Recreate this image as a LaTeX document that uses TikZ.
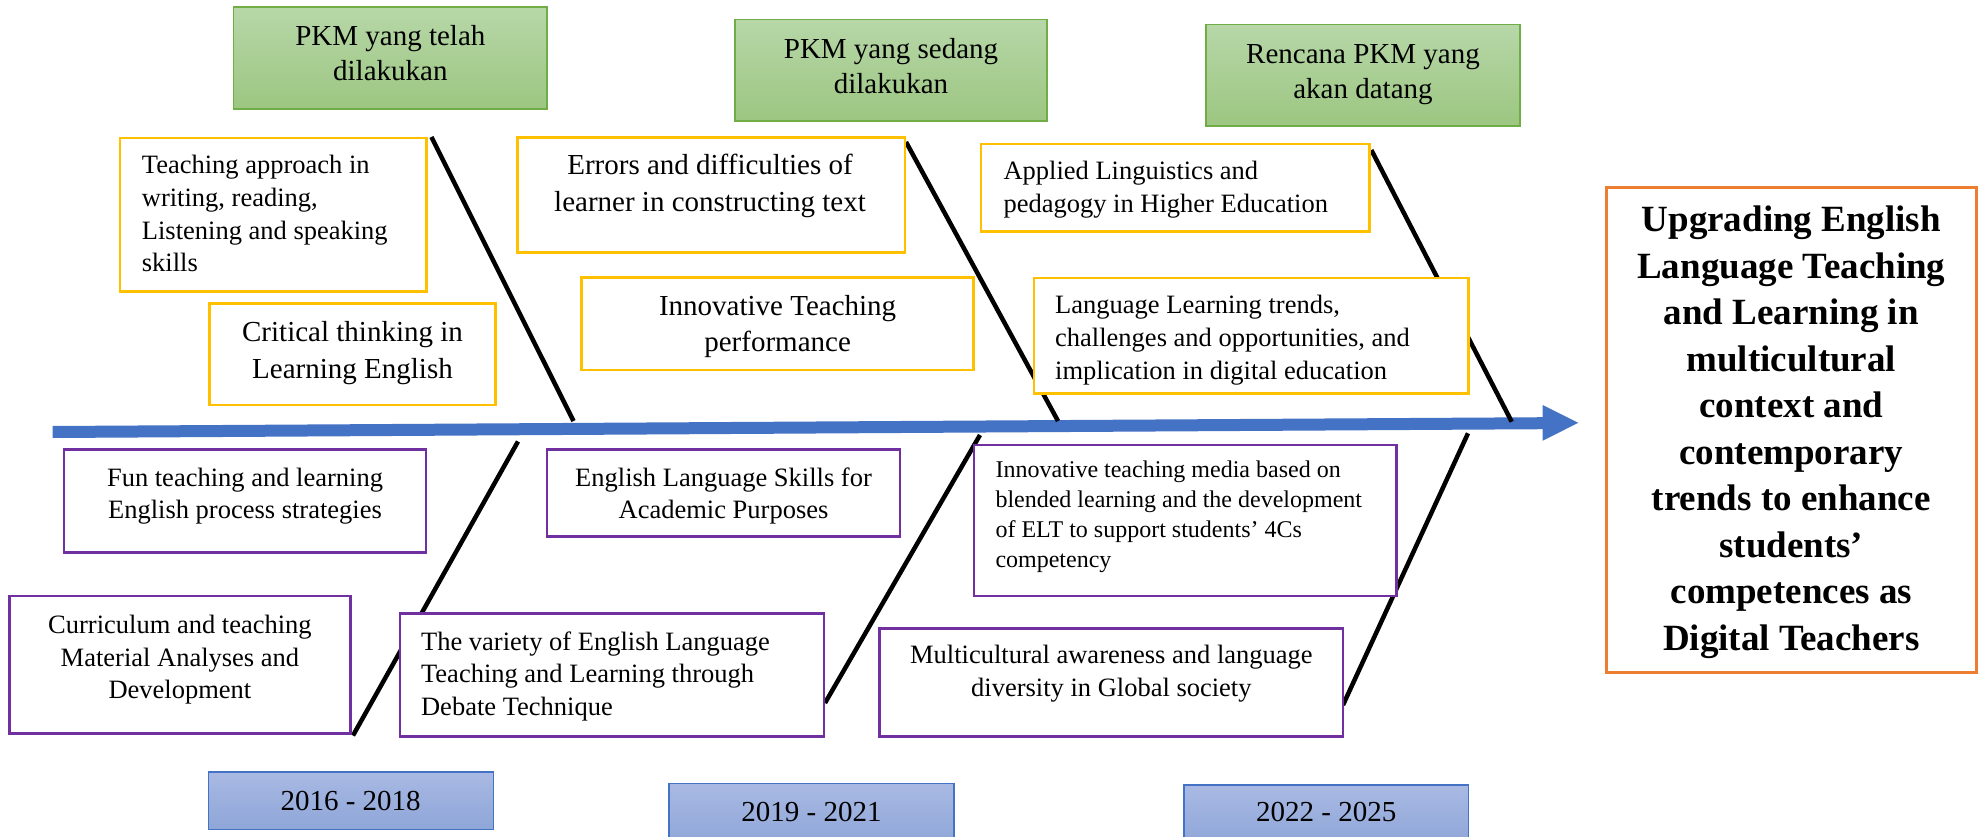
\documentclass[tikz,border=0pt]{standalone}
\usepackage{fontspec}
\setmainfont{Liberation Serif}
\definecolor{gold}{HTML}{FFC000}
\definecolor{purp}{HTML}{7030A0}
\definecolor{grnb}{HTML}{70AD47}
\definecolor{grnt}{HTML}{B7D7A8}
\definecolor{grnbt}{HTML}{9CC681}
\definecolor{orng}{HTML}{ED7D31}
\definecolor{blu}{HTML}{4472C4}
\definecolor{yrt}{HTML}{A9B9E3}
\definecolor{yrb}{HTML}{8EA6D8}
\newcommand{\setfs}[2]{\fontsize{#1pt}{#2pt}\selectfont}
\newcommand{\ctext}[1]{\begin{tabular}[t]{@{}c@{}}#1\end{tabular}}
\newcommand{\ltext}[1]{\begin{tabular}[t]{@{}l@{}}#1\end{tabular}}
\tikzset{
  boxb/.style={draw, fill=white, inner sep=0pt, line width=2.7pt},
  ybox/.style={boxb, draw=gold},
  pbox/.style={boxb, draw=purp, line width=2.5pt},
  obox/.style={boxb, draw=orng, line width=3pt},
  gbox/.style={draw=grnb, line width=1.6pt, top color=grnt, bottom color=grnbt, inner sep=0pt},
  yrbox/.style={draw=blu, line width=1.6pt, top color=yrt, bottom color=yrb, inner sep=0pt},
  bone/.style={line width=4.5pt, black},
  txt/.style={inner sep=0pt, anchor=base},
  ltxt/.style={inner sep=0pt, anchor=base west},
  fbig/.style={font=\setfs{29}{35.3}},
  fbigb/.style={font=\setfs{29}{36.6}},
  fmed/.style={font=\setfs{26.5}{32.7}},
  fsml/.style={font=\setfs{24}{30}},
  fttl/.style={font=\bfseries\setfs{37}{46.5}}
}
\begin{document}
\begin{tikzpicture}[x=1pt,y=-1pt]
\useasboundingbox (0,0) rectangle (1978,837);
% spine
\coordinate (sA) at (52.6,432);
\coordinate (sB) at (1545,423.2);
\coordinate (hT) at (1542.7,405);
\coordinate (tip) at (1578.3,422.8);
\coordinate (hB) at (1542.7,440.7);
\draw[line width=12pt, blu] (sA) -- (sB);
\fill[blu] (hT) -- (tip) -- (hB) -- cycle;
% bones
\coordinate (u1a) at (431.4,137);   \coordinate (u1b) at (573.5,421);
\coordinate (u2a) at (906,142);     \coordinate (u2b) at (1058,421);
\coordinate (u3a) at (1371.3,150);  \coordinate (u3b) at (1511.7,421.7);
\coordinate (l1a) at (518,441.5);   \coordinate (l1b) at (353,735.5);
\coordinate (l2a) at (980,435);     \coordinate (l2b) at (825,703);
\coordinate (l3a) at (1468,433.3);  \coordinate (l3b) at (1343,705);
\draw[bone] (u1a) -- (u1b);
\draw[bone] (u2a) -- (u2b);
\draw[bone] (u3a) -- (u3b);
\draw[bone] (l1a) -- (l1b);
\draw[bone] (l2a) -- (l2b);
\draw[bone] (l3a) -- (l3b);
% green headers
\node[gbox, minimum width=313.5pt, minimum height=102pt] (g1) at (390.35,58.3) {};
\node[txt, fbig] (g1t) at (390.35,45.7) {\ctext{PKM yang telah\\dilakukan}};
\node[gbox, minimum width=312.3pt, minimum height=101.7pt] (g2) at (891,70.2) {};
\node[txt, fbig] (g2t) at (891,58.3) {\ctext{PKM yang sedang\\dilakukan}};
\node[gbox, minimum width=314pt, minimum height=101.7pt] (g3) at (1363,75.2) {};
\node[txt, fbig] (g3t) at (1363,63.3) {\ctext{Rencana PKM yang\\akan datang}};
% yellow boxes
\node[ybox, minimum width=306.7pt, minimum height=153.3pt] (yA) at (273.35,214.65) {};
\node[ltxt, fmed] (yAt) at (141.7,173.7) {\ltext{Teaching approach in\\writing, reading,\\Listening and speaking\\skills}};
\node[ybox, minimum width=286.6pt, minimum height=101.7pt] (yB) at (352.5,354.2) {};
\node[txt, fbigb] (yBt) at (352.5,341.7) {\ctext{Critical thinking in\\Learning English}};
\node[ybox, minimum width=387.3pt, minimum height=115pt] (yC) at (711.3,194.8) {};
\node[txt, fbigb] (yCt) at (710,175) {\ctext{Errors and difficulties of\\learner in constructing text}};
\node[ybox, minimum width=392pt, minimum height=92.3pt] (yD) at (777.6,323.85) {};
\node[txt, fbigb] (yDt) at (777.6,315) {\ctext{Innovative Teaching\\performance}};
\node[ybox, minimum width=388.3pt, minimum height=87.3pt] (yE) at (1175.15,187.65) {};
\node[ltxt, fmed] (yEt) at (1003.3,179.7) {\ltext{Applied Linguistics and\\pedagogy in Higher Education}};
\node[ybox, minimum width=434.3pt, minimum height=115.7pt] (yF) at (1251.15,335.85) {};
\node[ltxt, fmed] (yFt) at (1055,313.7) {\ltext{Language Learning trends,\\challenges and opportunities, and\\implication in digital education}};
% purple boxes
\node[pbox, minimum width=362pt, minimum height=103pt] (pA) at (245,500.8) {};
\node[txt, fmed] (pAt) at (245,486) {\ctext{Fun teaching and learning\\English process strategies}};
\node[pbox, minimum width=341.3pt, minimum height=137.3pt] (pB) at (179.95,664.65) {};
\node[txt, fmed] (pBt) at (179.95,633.3) {\ctext{Curriculum and teaching\\Material Analyses and\\Development}};
\node[pbox, minimum width=352.8pt, minimum height=87.4pt] (pC) at (723.5,493) {};
\node[txt, fmed] (pCt) at (723.5,486) {\ctext{English Language Skills for\\Academic Purposes}};
\node[pbox, minimum width=424.3pt, minimum height=123.4pt] (pD) at (611.95,675) {};
\node[ltxt, fmed] (pDt) at (420.9,650) {\ltext{The variety of English Language\\Teaching and Learning through\\Debate Technique}};
\node[pbox, minimum width=422.3pt, minimum height=151pt] (pE) at (1185.15,520.5) {};
\node[ltxt, fsml] (pEt) at (995.3,477.3) {\ltext{Innovative teaching media based on\\blended learning and the development\\of ELT to support students’ 4Cs\\competency}};
\node[pbox, minimum width=463.3pt, minimum height=108.4pt] (pF) at (1111.35,682.5) {};
\node[txt, fmed] (pFt) at (1111.35,663.3) {\ctext{Multicultural awareness and language\\diversity in Global society}};
% target box
\node[obox, minimum width=370.6pt, minimum height=485pt] (ob) at (1791.3,430.2) {};
\node[txt, fttl] (obt) at (1791.3,231.7) {\ctext{Upgrading English\\Language Teaching\\and Learning in\\multicultural\\context and\\contemporary\\trends to enhance\\students’\\competences as\\Digital Teachers}};
% year boxes
\node[yrbox, minimum width=285pt, minimum height=57.6pt] (yr1) at (350.8,800.5) {};
\node[txt, fbig] (yr1t) at (350.6,810) {2016 - 2018};
\node[yrbox, minimum width=285pt, minimum height=61.7pt] (yr2) at (811.5,814.15) {};
\node[txt, fbig] (yr2t) at (811.5,821.5) {2019 - 2021};
\node[yrbox, minimum width=284.6pt, minimum height=60pt] (yr3) at (1326.3,815) {};
\node[txt, fbig] (yr3t) at (1326.3,821.5) {2022 - 2025};
\end{tikzpicture}
\end{document}
